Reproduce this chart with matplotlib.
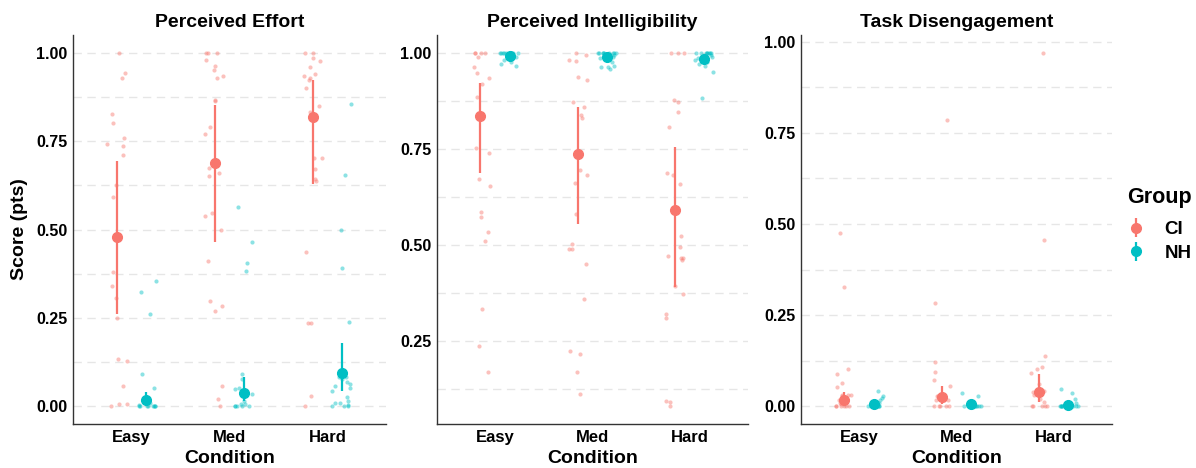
import numpy as np
import matplotlib
matplotlib.use("Agg")
from matplotlib import pyplot as plt
from matplotlib.ticker import MultipleLocator, FormatStrFormatter

plt.rcParams['font.family'] = ['Liberation Sans', 'DejaVu Sans']
plt.rcParams['font.weight'] = 'bold'

conditions = ["Easy", "Med", "Hard"]
groups = ["CI", "NH"]
titles = ["Perceived Effort", "Perceived Intelligibility", "Task Disengagement"]

# individual scores (Easy, Med, Hard)
effort_ci_pts = [
    [1.0, 0.942, 0.929, 0.826, 0.80, 0.759, 0.742, 0.737, 0.711, 0.625, 0.592,
     0.38, 0.339, 0.307, 0.25, 0.133, 0.127, 0.057, 0.006, 0.006, 0.0],
    [1.0, 1.0, 1.0, 0.979, 0.963, 0.952, 0.934, 0.928, 0.865, 0.862, 0.791, 0.771,
     0.674, 0.659, 0.651, 0.546, 0.539, 0.498, 0.41, 0.297, 0.284, 0.269, 0.057, 0.021, 0.0],
    [1.0, 1.0, 0.985, 0.976, 0.96, 0.941, 0.934, 0.929, 0.923, 0.901, 0.85, 0.832,
     0.703, 0.703, 0.671, 0.642, 0.638, 0.435, 0.236, 0.236, 0.03, 0.0],
]
effort_nh_pts = [
    [0.354, 0.323, 0.26, 0.091, 0.051, 0.01, 0.005, 0.0, 0.0, 0.0, 0.0, 0.0, 0.0, 0.0, 0.0],
    [0.563, 0.465, 0.404, 0.384, 0.092, 0.077, 0.051, 0.049, 0.034, 0.015,
     0.006, 0.006, 0.0, 0.0, 0.0, 0.0, 0.0],
    [0.856, 0.654, 0.499, 0.392, 0.238, 0.093, 0.092, 0.082, 0.082, 0.076, 0.07, 0.063,
     0.058, 0.053, 0.042, 0.025, 0.016, 0.01, 0.008, 0.005, 0.0, 0.0, 0.0],
]
intell_ci_pts = [
    [1.0, 1.0, 1.0, 1.0, 0.988, 0.964, 0.948, 0.934, 0.919, 0.885, 0.753, 0.739,
     0.671, 0.654, 0.586, 0.572, 0.534, 0.51, 0.334, 0.238, 0.169],
    [1.0, 0.995, 0.98, 0.978, 0.937, 0.928, 0.871, 0.858, 0.838, 0.829, 0.696, 0.683,
     0.661, 0.581, 0.502, 0.488, 0.488, 0.451, 0.358, 0.225, 0.217, 0.168, 0.113],
    [1.0, 1.0, 1.0, 0.878, 0.872, 0.845, 0.806, 0.687, 0.683, 0.658, 0.524, 0.494,
     0.472, 0.465, 0.465, 0.46, 0.393, 0.372, 0.319, 0.309, 0.094, 0.091, 0.08],
]
intell_nh_pts = [
    [1.0, 1.0, 1.0, 1.0, 1.0, 1.0, 1.0, 1.0, 1.0, 0.995, 0.99, 0.99, 0.985, 0.98, 0.975, 0.97, 0.965],
    [1.0, 1.0, 1.0, 1.0, 1.0, 1.0, 1.0, 1.0, 1.0, 0.995, 0.99, 0.987, 0.975, 0.966, 0.964, 0.962, 0.958],
    [1.0, 1.0, 1.0, 1.0, 1.0, 1.0, 1.0, 1.0, 0.995, 0.99, 0.985, 0.98, 0.975, 0.97, 0.966, 0.951, 0.883],
]
diseng_ci_pts = [
    [0.476, 0.326, 0.101, 0.09, 0.064, 0.052, 0.032, 0.032, 0.03, 0.027, 0.02, 0.017,
     0.008, 0.005, 0.0, 0.0, 0.0, 0.0, 0.0, 0.0],
    [0.786, 0.284, 0.121, 0.095, 0.072, 0.056, 0.027, 0.027, 0.017, 0.017, 0.017,
     0.0, 0.0, 0.0, 0.0, 0.0],
    [0.969, 0.456, 0.139, 0.109, 0.102, 0.092, 0.06, 0.043, 0.04, 0.031, 0.019, 0.013,
     0.0, 0.0, 0.0, 0.0, 0.0],
]
diseng_nh_pts = [
    [0.042, 0.027, 0.022, 0.016, 0.008, 0.0, 0.0, 0.0, 0.0, 0.0, 0.0, 0.0, 0.0, 0.0],
    [0.037, 0.027, 0.013, 0.005, 0.0, 0.0, 0.0, 0.0, 0.0, 0.0, 0.0, 0.0, 0.0],
    [0.048, 0.036, 0.019, 0.008, 0.0, 0.0, 0.0, 0.0, 0.0, 0.0, 0.0, 0.0, 0.0, 0.0],
]

# group means with 95% interval (Easy, Med, Hard)
effort_ci_mean = [0.478, 0.687, 0.817]
effort_ci_lo = [0.262, 0.464, 0.630]
effort_ci_hi = [0.693, 0.852, 0.922]
effort_nh_mean = [0.018, 0.039, 0.095]
effort_nh_lo = [0.0, 0.016, 0.042]
effort_nh_hi = [0.040, 0.082, 0.180]

intell_ci_mean = [0.834, 0.737, 0.591]
intell_ci_lo = [0.687, 0.554, 0.391]
intell_ci_hi = [0.920, 0.858, 0.754]
intell_nh_mean = [0.992, 0.990, 0.984]
intell_nh_lo = [0.985, 0.982, 0.975]
intell_nh_hi = [0.998, 0.997, 0.992]

diseng_ci_mean = [0.017, 0.025, 0.040]
diseng_ci_lo = [0.005, 0.005, 0.013]
diseng_ci_hi = [0.040, 0.056, 0.088]
diseng_nh_mean = [0.005, 0.006, 0.003]
diseng_nh_lo = [0.001, 0.001, 0.0]
diseng_nh_hi = [0.010, 0.012, 0.008]

colors = {"CI": "#F8766D", "NH": "#00BFC4"}
dodge = {"CI": -0.15, "NH": 0.15}

panels = [
    (effort_ci_pts, effort_nh_pts,
     (effort_ci_mean, effort_ci_lo, effort_ci_hi), (effort_nh_mean, effort_nh_lo, effort_nh_hi),
     (-0.05, 1.05)),
    (intell_ci_pts, intell_nh_pts,
     (intell_ci_mean, intell_ci_lo, intell_ci_hi), (intell_nh_mean, intell_nh_lo, intell_nh_hi),
     (0.034, 1.046)),
    (diseng_ci_pts, diseng_nh_pts,
     (diseng_ci_mean, diseng_ci_lo, diseng_ci_hi), (diseng_nh_mean, diseng_nh_lo, diseng_nh_hi),
     (-0.0485, 1.0185)),
]

rng = np.random.default_rng(7)

fig = plt.figure(figsize=(11.96, 4.68), dpi=100)
lefts = [73, 436.7, 800.7]
widths = [313, 311.3, 311.3]
handles = []
for k, (ci_pts, nh_pts, ci_sum, nh_sum, ylim) in enumerate(panels):
    ax = fig.add_axes([lefts[k] / 1196, 44 / 468, widths[k] / 1196, 389 / 468])
    xs = np.arange(len(conditions))
    for g, pts, summ in (("CI", ci_pts, ci_sum), ("NH", nh_pts, nh_sum)):
        for i, vals in enumerate(pts):
            jit = rng.uniform(-0.1, 0.1, len(vals))
            ax.scatter(xs[i] + dodge[g] + jit, vals, s=9, color=colors[g],
                       alpha=0.45, linewidths=0, zorder=2)
        m, lo, hi = (np.array(a) for a in summ)
        h = ax.errorbar(xs + dodge[g], m, yerr=[m - lo, hi - m], fmt='o', ms=7,
                        color=colors[g], elinewidth=1.6, capsize=0, zorder=3, label=g)
        if k == 0:
            handles.append(h)

    ax.set_xlim(-0.6, 2.6)
    ax.set_ylim(*ylim)
    ax.set_xticks(xs)
    ax.set_xticklabels(conditions)
    ax.yaxis.set_major_locator(MultipleLocator(0.25))
    ax.yaxis.set_minor_locator(MultipleLocator(0.125))
    ax.yaxis.set_major_formatter(FormatStrFormatter('%.2f'))
    ax.grid(axis='y', which='both', color='#E6E6E6', linestyle=(0, (6, 4)), linewidth=1.0)
    ax.set_axisbelow(True)
    ax.tick_params(axis='both', which='both', length=0, labelsize=11.5, pad=4)
    ax.tick_params(axis='x', labelsize=12, pad=4)
    for lab in ax.get_xticklabels() + ax.get_yticklabels():
        lab.set_fontweight('bold')
    for s in ('top', 'right'):
        ax.spines[s].set_visible(False)
    for s in ('left', 'bottom'):
        ax.spines[s].set_color('#333333')
        ax.spines[s].set_linewidth(1.0)
    ax.set_title(titles[k], fontsize=14, fontweight='bold', pad=6)
    ax.set_xlabel("Condition", fontsize=14, fontweight='bold', labelpad=4)
    if k == 0:
        ax.set_ylabel("Score (pts)", fontsize=14, fontweight='bold', labelpad=6)

leg = fig.legend(handles=handles, labels=groups, title="Group", loc='center left',
                 bbox_to_anchor=(1110 / 1196, 0.52), frameon=False,
                 prop={'size': 13.5, 'weight': 'bold'}, handlelength=1.0,
                 handletextpad=1.0, labelspacing=0.35)
leg.get_title().set_fontsize(15.5)
leg.get_title().set_fontweight('bold')
leg._legend_box.align = "left"
leg._legend_box.sep = 9

fig.savefig("out.png", dpi=100)
